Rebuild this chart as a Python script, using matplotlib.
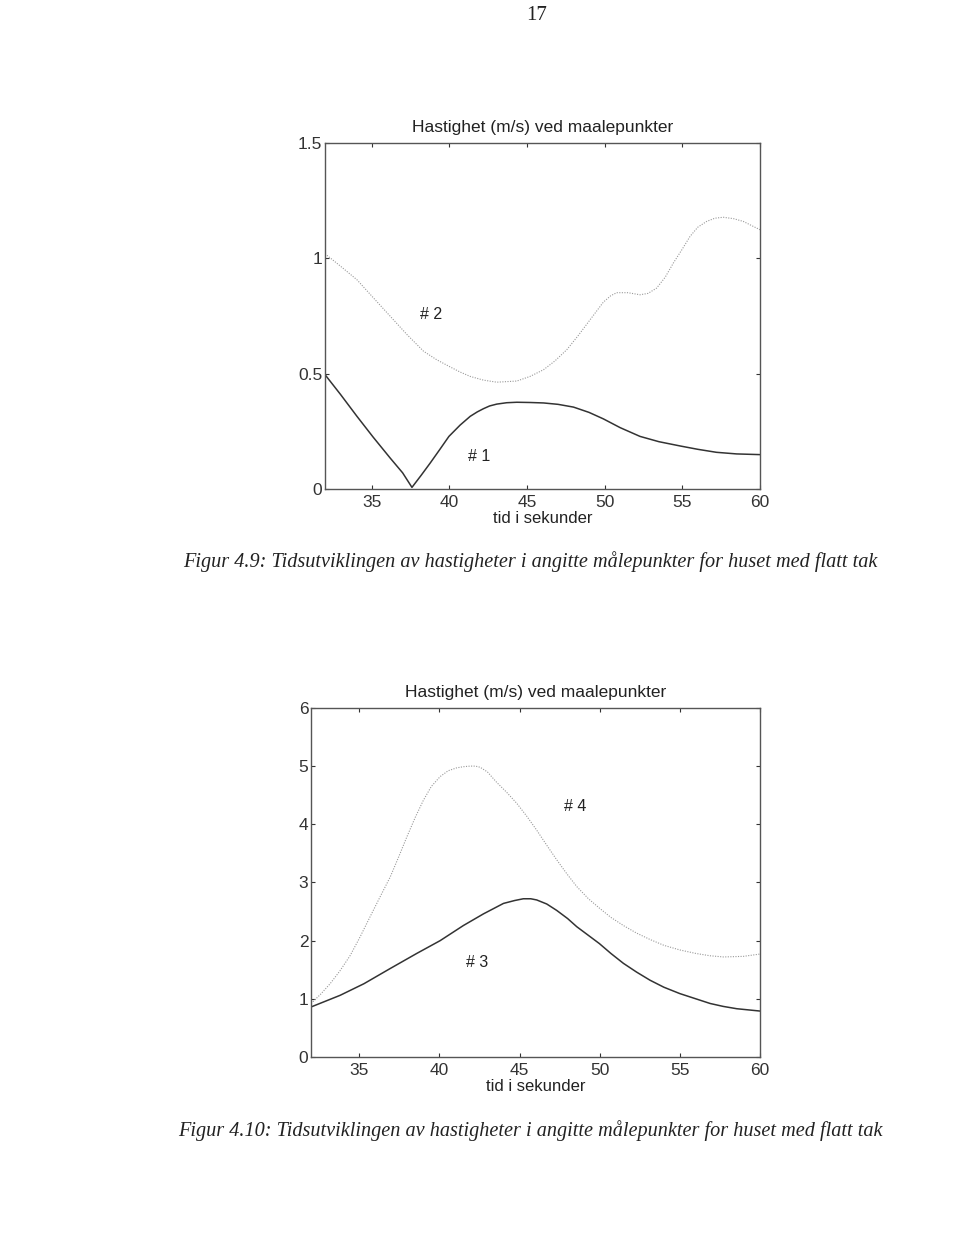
import numpy as np
import matplotlib.pyplot as plt

plt.rcParams["font.family"] = "Liberation Sans"

# figur 4.9, maalepunkt 1 og 2
t1 = [32.0, 33.0, 34.06, 35.1, 36.2, 37.0, 37.6, 38.2, 38.78, 39.4, 39.98, 40.7,
      41.35, 41.8, 42.2, 42.6, 43.06, 43.7, 44.35, 45.2, 46.07, 47.0, 48.0, 49.0,
      49.92, 51.0, 52.28, 53.5, 54.9, 56.0, 57.2, 58.5, 60.0]
v1 = [0.496, 0.41, 0.315, 0.225, 0.134, 0.07, 0.007, 0.06, 0.113, 0.172, 0.228, 0.277,
      0.315, 0.334, 0.348, 0.36, 0.368, 0.374, 0.376, 0.375, 0.373, 0.367, 0.355, 0.332,
      0.304, 0.266, 0.228, 0.205, 0.186, 0.172, 0.159, 0.152, 0.149]

t2 = [32.0, 33.0, 34.06, 35.1, 36.2, 37.3, 38.35, 39.2, 39.98, 40.7, 41.35, 42.2,
      43.06, 44.35, 45.2, 46.07, 46.8, 47.57, 48.3, 49.07, 49.92, 50.4, 50.78, 51.5,
      52.28, 52.8, 53.35, 53.9, 54.43, 55.0, 55.5, 56.0, 56.57, 57.1, 57.64, 58.3,
      58.93, 60.0]
v2 = [1.02, 0.966, 0.907, 0.83, 0.749, 0.668, 0.597, 0.56, 0.532, 0.507, 0.488, 0.472,
      0.463, 0.468, 0.488, 0.517, 0.555, 0.604, 0.665, 0.734, 0.81, 0.838, 0.851, 0.851,
      0.842, 0.848, 0.871, 0.918, 0.98, 1.04, 1.095, 1.135, 1.16, 1.174, 1.178, 1.172,
      1.16, 1.124]

# figur 4.10, maalepunkt 3 og 4
t3 = [32.0, 33.81, 35.3, 36.93, 38.59, 40.05, 41.5, 42.75, 44.0, 44.7, 45.24, 45.7,
      46.07, 46.7, 47.32, 48.0, 48.57, 49.3, 49.98, 50.7, 51.48, 52.3, 53.14, 54.0,
      55.0, 56.0, 56.89, 57.7, 58.55, 60.0]
v3 = [0.86, 1.06, 1.26, 1.52, 1.78, 2.0, 2.26, 2.46, 2.64, 2.69, 2.72, 2.72,
      2.70, 2.63, 2.52, 2.38, 2.24, 2.09, 1.95, 1.78, 1.61, 1.46, 1.32, 1.20,
      1.09, 1.0, 0.92, 0.87, 0.83, 0.79]

t4 = [32.0, 32.6, 33.19, 33.8, 34.43, 35.05, 35.68, 36.3, 36.93, 37.45, 37.97, 38.5,
      39.0, 39.5, 40.05, 40.55, 41.08, 41.5, 41.92, 42.25, 42.55, 43.0, 43.58, 44.2,
      44.83, 45.45, 46.07, 46.7, 47.32, 47.95, 48.57, 49.3, 49.98, 50.7, 51.48, 52.3,
      53.14, 54.0, 55.0, 56.0, 56.89, 57.72, 58.96, 60.0]
v4 = [0.92, 1.08, 1.26, 1.48, 1.74, 2.06, 2.41, 2.75, 3.09, 3.43, 3.78, 4.12,
      4.41, 4.65, 4.82, 4.92, 4.97, 4.99, 5.0, 5.0, 4.98, 4.90, 4.72, 4.55,
      4.36, 4.14, 3.90, 3.64, 3.39, 3.15, 2.93, 2.72, 2.56, 2.40, 2.26, 2.13,
      2.02, 1.92, 1.84, 1.78, 1.74, 1.72, 1.73, 1.77]

xticks = [35, 40, 45, 50, 55, 60]
yticks_a = [0, 0.5, 1, 1.5]
ytick_labels_a = ["0", "0.5", "1", "1.5"]
yticks_b = [0, 1, 2, 3, 4, 5, 6]

tittel = "Hastighet (m/s) ved maalepunkter"
xtekst = "tid i sekunder"
caption_a = "Figur 4.9: Tidsutviklingen av hastigheter i angitte målepunkter for huset med flatt tak"
caption_b = "Figur 4.10: Tidsutviklingen av hastigheter i angitte målepunkter for huset med flatt tak"

fig = plt.figure(figsize=(9.6, 12.37), dpi=100)
ax1 = fig.add_axes([0.3385, 0.6047, 0.4531, 0.2797])
ax2 = fig.add_axes([0.324, 0.1455, 0.4677, 0.2822])

dotted = (0, (1, 1.3))

def style(ax, yticks, ylabels, ylim):
    ax.set_xlim(32, 60)
    ax.set_ylim(*ylim)
    ax.set_xticks(xticks)
    ax.set_yticks(yticks)
    ax.set_yticklabels(ylabels)
    ax.tick_params(direction="in", length=3, width=0.8, top=True, right=True,
                   labelsize=12.5, colors="#333333")
    ax.tick_params(axis="x", pad=4)
    ax.tick_params(axis="y", pad=2)
    for s in ax.spines.values():
        s.set_color("#555555")
        s.set_linewidth(1.0)
    ax.set_title(tittel, fontsize=12.5, color="#222222", pad=8)
    ax.set_xlabel(xtekst, fontsize=12, color="#222222", labelpad=1)

ax1.plot(t1, v1, color="#333333", lw=1.1)
ax1.plot(t2, v2, color="#999999", lw=0.8, ls=dotted)
ax1.text(38.82, 0.756, "# 2", fontsize=11.5, ha="center", va="center", color="#222222")
ax1.text(41.93, 0.142, "# 1", fontsize=11.5, ha="center", va="center", color="#222222")
style(ax1, yticks_a, ytick_labels_a, (0, 1.5))

ax2.plot(t3, v3, color="#333333", lw=1.1)
ax2.plot(t4, v4, color="#999999", lw=0.8, ls=dotted)
ax2.text(48.47, 4.30, "# 4", fontsize=11.5, ha="center", va="center", color="#222222")
ax2.text(42.33, 1.63, "# 3", fontsize=11.5, ha="center", va="center", color="#222222")
style(ax2, yticks_b, [str(v) for v in yticks_b], (0, 6))

fig.text(537 / 960, 1 - 15 / 1237, "17", fontsize=15, family="Liberation Serif",
         ha="center", va="center", color="#222222")
fig.text(183 / 960, 1 - 562 / 1237, caption_a, fontsize=14.6, family="Liberation Serif",
         style="italic", ha="left", va="center", color="#222222")
fig.text(178 / 960, 1 - 1131 / 1237, caption_b, fontsize=14.6, family="Liberation Serif",
         style="italic", ha="left", va="center", color="#222222")

fig.savefig("out.png", dpi=100)
